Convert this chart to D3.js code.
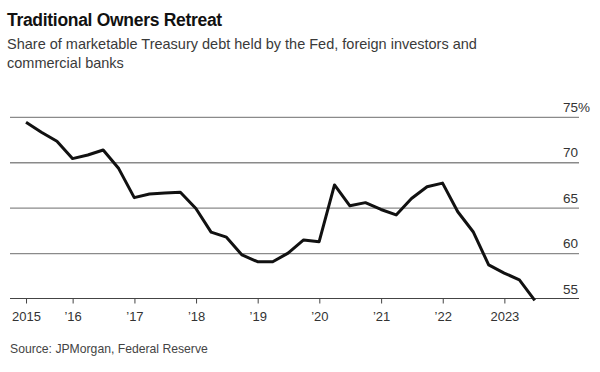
<!DOCTYPE html>
<html>
<head>
<meta charset="utf-8">
<script src="https://cdn.jsdelivr.net/npm/d3@7"></script>
<style>
body { margin: 0; background: #fff; }
svg { display: block; font-family: "Liberation Sans", Arial, sans-serif; }
</style>
</head>
<body>
<svg width="600" height="372"></svg>
<script>
// quarter-end dates, 2015 Q1 .. 2023 Q2
var quarters = [
  "2015-03-31","2015-06-30","2015-09-30","2015-12-31",
  "2016-03-31","2016-06-30","2016-09-30","2016-12-31",
  "2017-03-31","2017-06-30","2017-09-30","2017-12-31",
  "2018-03-31","2018-06-30","2018-09-30","2018-12-31",
  "2019-03-31","2019-06-30","2019-09-30","2019-12-31",
  "2020-03-31","2020-06-30","2020-09-30","2020-12-31",
  "2021-03-31","2021-06-30","2021-09-30","2021-12-31",
  "2022-03-31","2022-06-30","2022-09-30","2022-12-31",
  "2023-03-31","2023-06-30"
];
// share held by Fed + foreign + banks (%)
var share = [
  74.4, 73.3, 72.3, 70.4,
  70.8, 71.35, 69.3, 66.1,
  66.5, 66.6, 66.7, 64.9,
  62.3, 61.75, 59.8, 59.05,
  59.05, 60.0, 61.45, 61.25,
  67.5, 65.2, 65.55, 64.8,
  64.2, 66.0, 67.3, 67.7,
  64.55, 62.35, 58.7, 57.8,
  57.05, 54.8
];
var tick_dates = ["2015-03-31","2016-01-01","2017-01-01","2018-01-01","2019-01-01",
                  "2020-01-01","2021-01-01","2022-01-01","2023-01-01"];
var tick_labels = ["2015","’16","’17","’18","’19","’20","’21","’22","2023"];
var y_ticks = [55, 60, 65, 70, 75];

var parse = d3.timeParse("%Y-%m-%d");
var data = quarters.map(function(q, i) { return {date: parse(q), value: share[i]}; });

var svg = d3.select("svg");

// titles
svg.append("text")
  .attr("x", 7).attr("y", 26)
  .attr("font-size", 17.5).attr("font-weight", "bold")
  .attr("letter-spacing", -0.3)
  .attr("fill", "#111")
  .text("Traditional Owners Retreat");

var sub = svg.append("text")
  .attr("font-size", 14.5).attr("fill", "#3a3a3a");
sub.append("tspan").attr("x", 7).attr("y", 49)
  .text("Share of marketable Treasury debt held by the Fed, foreign investors and");
sub.append("tspan").attr("x", 7).attr("y", 68)
  .text("commercial banks");

svg.append("text")
  .attr("x", 10).attr("y", 353)
  .attr("font-size", 12.2).attr("fill", "#444")
  .text("Source: JPMorgan, Federal Reserve");

// scales
var left = 10, right = 579;
var x = d3.scaleTime()
  .domain([parse("2015-01-01"), parse("2024-01-01")])
  .range([11, 566]);
var y = d3.scaleLinear().domain([55, 75]).range([298.5, 116.8]);

// gridlines + right labels
var yAxis = svg.append("g")
  .attr("transform", "translate(" + right + ",0)")
  .call(d3.axisLeft(y).tickValues(y_ticks).tickSize(right - left).tickFormat(d3.format("d")));
yAxis.select(".domain").remove();
yAxis.selectAll(".tick line").attr("stroke", "#8a8a8a").attr("stroke-width", 1.3);
yAxis.selectAll(".tick text")
  .attr("x", -1).attr("dy", -5.5)
  .attr("text-anchor", "end")
  .attr("font-size", 13.5).attr("fill", "#333")
  .attr("font-family", "Liberation Sans, Arial, sans-serif");
yAxis.selectAll(".tick").filter(function(d) { return d === 75; })
  .append("text")
  .attr("x", -1).attr("dy", -5.5)
  .attr("text-anchor", "start")
  .attr("font-size", 13.5).attr("fill", "#333")
  .text("%");
yAxis.selectAll(".tick").filter(function(d) { return d === 55; }).select("line").remove();

// bottom axis
var xAxis = svg.append("g")
  .attr("transform", "translate(0," + y(55) + ")")
  .call(d3.axisBottom(x)
    .tickValues(tick_dates.map(parse))
    .tickSize(5)
    .tickFormat(function(d, i) { return tick_labels[i]; }));
xAxis.select(".domain").remove();
xAxis.append("line")
  .attr("x1", left).attr("x2", right)
  .attr("stroke", "#444").attr("stroke-width", 1.2);
xAxis.selectAll(".tick line").attr("stroke", "#444");
xAxis.selectAll(".tick text")
  .attr("y", 22).attr("dy", 0)
  .attr("font-size", 13).attr("fill", "#333")
  .attr("font-family", "Liberation Sans, Arial, sans-serif");

// the line
var line = d3.line()
  .x(function(d) { return x(d.date); })
  .y(function(d) { return y(d.value); });

svg.append("path")
  .datum(data)
  .attr("fill", "none")
  .attr("stroke", "#111")
  .attr("stroke-width", 3)
  .attr("stroke-linejoin", "round")
  .attr("d", line);
</script>
</body>
</html>
